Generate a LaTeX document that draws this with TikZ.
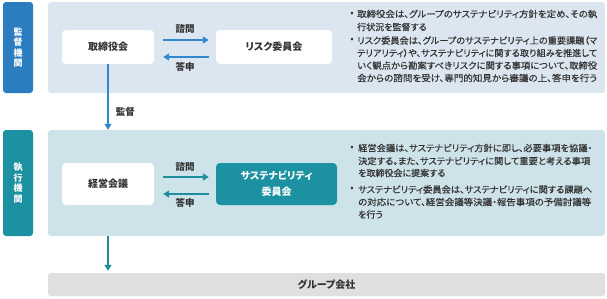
\documentclass[tikz,border=0pt]{standalone}
\usepackage{fontspec}
\usepackage{graphicx}
\setmainfont{Noto Sans CJK JP}[RawFeature={+palt}]
\newfontfamily\bodyfont{Noto Sans CJK JP}[RawFeature={+palt},FakeBold=0.35]
\usetikzlibrary{arrows.meta}
\definecolor{supblue}{HTML}{2C7DC0}
\definecolor{suppanel}{HTML}{DCE6F0}
\definecolor{exeteal}{HTML}{1B91A1}
\definecolor{exepanel}{HTML}{CDE3E9}
\definecolor{graybar}{HTML}{DFDFDF}
\definecolor{txtdark}{HTML}{333333}
\definecolor{arrblue}{HTML}{3189CB}
\definecolor{arrteal}{HTML}{1E8E9E}
\newcommand{\fullline}[2]{\resizebox{#1}{\height}{#2}}
\tikzset{
  panel/.style={rounded corners=3pt, inner sep=0pt, draw=none},
  sidebox/.style={rounded corners=3pt, inner sep=0pt, fill=#1, text=white,
    font=\fontsize{9}{10.6}\selectfont\bfseries, align=center},
  unitbox/.style={rounded corners=4pt, inner sep=0pt, fill=white, text=txtdark,
    font=\fontsize{10}{12}\selectfont\bfseries, align=center},
  tealbox/.style={rounded corners=4pt, inner sep=0pt, fill=exeteal, text=white,
    font=\fontsize{10}{16}\selectfont\bfseries, align=center},
  bodyline/.style={anchor=west, inner sep=0pt, text=txtdark,
    font=\fontsize{9}{11}\selectfont\bodyfont},
  bulletmark/.style={inner sep=0pt, text=txtdark, font=\fontsize{10}{10}\selectfont},
  arrlabel/.style={inner sep=0pt, text=txtdark, font=\fontsize{9.5}{10}\selectfont\bfseries},
  conn/.style={line width=1.5pt, -{Triangle[length=6pt,width=7pt]}}
}
\begin{document}
\begin{tikzpicture}[x=1pt,y=-1pt]
\useasboundingbox (0,0) rectangle (607,298);

% supervisory row
\node[sidebox=supblue, minimum width=30pt, minimum height=91pt] (suplab) at (18,47.5) {監\\督\\機\\関};
\node[panel, fill=suppanel, minimum width=557pt, minimum height=91pt] (suppan) at (326.5,47.5) {};
\node[unitbox, minimum width=92pt, minimum height=34pt] (board) at (108,47) {取締役会};
\node[unitbox, minimum width=116pt, minimum height=34pt] (risk) at (274,47) {リスク委員会};
\draw[conn, arrblue, shorten <=9pt, shorten >=7pt] ([yshift=7pt]board.east) -- ([yshift=7pt]risk.west)
  node[arrlabel, midway, yshift=11pt] (lq1) {諮問};
\draw[conn, arrblue, shorten <=7pt, shorten >=9pt] ([yshift=-10pt]risk.west) -- ([yshift=-10pt]board.east)
  node[arrlabel, midway, yshift=-10pt] (la1) {答申};

\node[bulletmark] (b1) at (352,14) {•};
\node[bodyline] (t1) at (357,14) {\fullline{240pt}{取締役会は、グループのサステナビリティ方針を定め、その執}};
\node[bodyline] (t2) at (357,27) {行状況を監督する};
\node[bulletmark] (b2) at (352,40.5) {•};
\node[bodyline] (t3) at (357,40.5) {\fullline{240pt}{リスク委員会は、グループのサステナビリティ上の重要課題（マ}};
\node[bodyline] (t4) at (357,53) {\fullline{240pt}{テリアリティ）や、サステナビリティに関する取り組みを推進して}};
\node[bodyline] (t5) at (357,65.5) {\fullline{240pt}{いく観点から勘案すべきリスクに関する事項について、取締役}};
\node[bodyline] (t6) at (357,78) {\fullline{240pt}{会からの諮問を受け、専門的知見から審議の上、答申を行う}};

% executive row
\node[sidebox=exeteal, minimum width=30pt, minimum height=106pt] (exelab) at (18,183) {執\\行\\機\\関};
\node[panel, fill=exepanel, minimum width=557pt, minimum height=106pt] (exepan) at (326.5,183) {};
\node[unitbox, minimum width=92pt, minimum height=42pt] (mgmt) at (108,184) {経営会議};
\node[tealbox, minimum width=121pt, minimum height=42pt] (sust) at (276.5,184) {サステナビリティ\\委員会};
\draw[conn, arrteal, shorten <=9pt, shorten >=7pt] ([yshift=7pt]mgmt.east) -- ([yshift=7pt]sust.west)
  node[arrlabel, midway, yshift=10pt] (lq2) {諮問};
\draw[conn, arrteal, shorten <=7pt, shorten >=9pt] ([yshift=-10pt]sust.west) -- ([yshift=-10pt]mgmt.east)
  node[arrlabel, midway, yshift=-9pt] (la2) {答申};

\node[bulletmark] (b3) at (352,148) {•};
\node[bodyline] (t7) at (358,148) {\fullline{234pt}{経営会議は、サステナビリティ方針に即し、必要事項を協議・}};
\node[bodyline] (t8) at (358,161) {\fullline{232pt}{決定する。また、サステナビリティに関して重要と考える事項}};
\node[bodyline] (t9) at (358,173) {を取締役会に提案する};
\node[bulletmark] (b4) at (352,189.5) {•};
\node[bodyline] (t10) at (358,189.5) {\fullline{234pt}{サステナビリティ委員会は、サステナビリティに関する課題へ}};
\node[bodyline] (t11) at (358,202) {\fullline{233pt}{の対応について、経営会議等決議・報告事項の予備討議等}};
\node[bodyline] (t12) at (358,214.5) {を行う};

% group companies
\node[panel, fill=graybar, minimum width=557pt, minimum height=23pt, text=txtdark,
  font=\fontsize{10}{12}\selectfont\bfseries] (group) at (326.5,284.5) {グループ会社};

% vertical connectors
\draw[conn, arrblue] (board.south) -- (board.south |- exepan.north)
  node[arrlabel, pos=0.72, right=7pt] (lsup) {監督};
\draw[conn, arrteal] (mgmt.south |- exepan.south) -- ([yshift=2pt]mgmt.south |- group.north);
\end{tikzpicture}
\end{document}
